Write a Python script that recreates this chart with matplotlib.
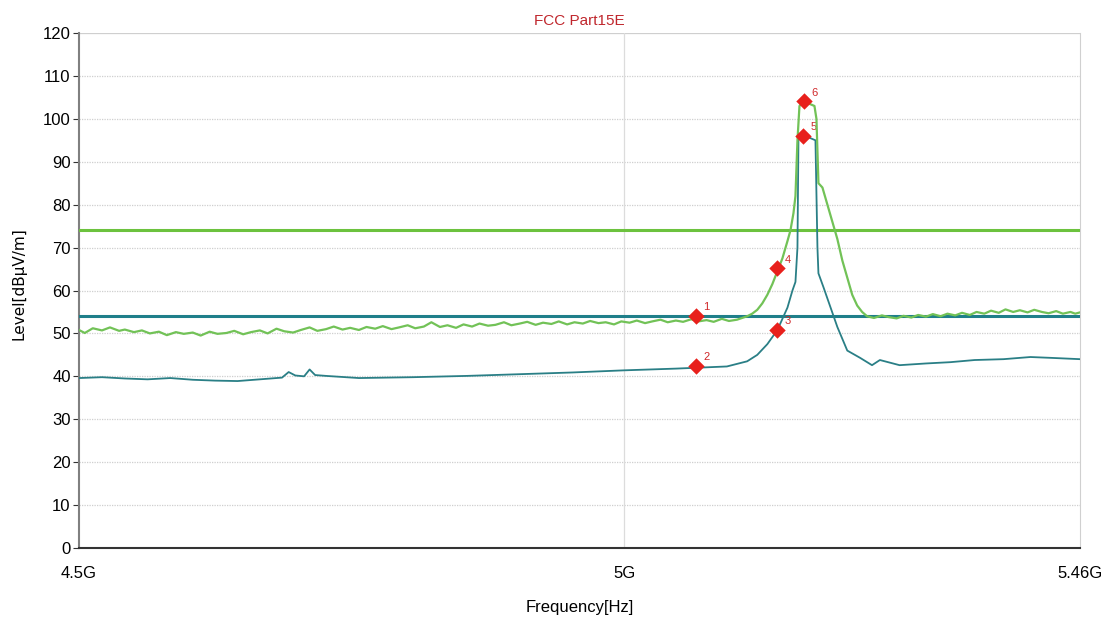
import numpy as np
import matplotlib
matplotlib.use('Agg')
import matplotlib.pyplot as plt
from matplotlib.ticker import FixedLocator, NullLocator

plt.rcParams['font.family'] = ['Liberation Sans Narrow', 'DejaVu Sans Condensed', 'Liberation Sans', 'DejaVu Sans']

# peak trace (MHz, dBuV/m)
peak_f = [4500, 4505, 4512, 4520, 4527, 4535, 4540, 4548, 4555, 4562, 4570, 4577, 4585, 4592,
          4600, 4607, 4615, 4622, 4630, 4637, 4645, 4652, 4660, 4667, 4675, 4682, 4690, 4697,
          4705, 4712, 4720, 4727, 4735, 4742, 4750, 4757, 4765, 4772, 4780, 4787, 4795, 4802,
          4810, 4817, 4825, 4832, 4840, 4847, 4855, 4862, 4870, 4877, 4885, 4892, 4900, 4907,
          4915, 4922, 4930, 4937, 4945, 4952, 4960, 4967, 4975, 4982, 4990, 4997, 5005, 5012,
          5020, 5027, 5035, 5042, 5050, 5057, 5065, 5072, 5080, 5087, 5095, 5102, 5110, 5115,
          5120, 5125, 5130, 5135, 5140, 5145, 5150, 5155, 5160, 5163, 5166, 5168, 5170, 5172,
          5176, 5182, 5187, 5189, 5191, 5195, 5200, 5205, 5210, 5215, 5220, 5225, 5230, 5235,
          5240, 5247, 5255, 5262, 5270, 5277, 5285, 5292, 5300, 5307, 5315, 5322, 5330, 5337,
          5345, 5352, 5360, 5367, 5375, 5382, 5390, 5397, 5405, 5412, 5420, 5427, 5435, 5442,
          5450, 5455, 5460]
peak_v = [50.8, 50.1, 51.2, 50.7, 51.4, 50.6, 50.9, 50.3, 50.7, 50.0, 50.4, 49.6, 50.3, 49.9,
          50.2, 49.5, 50.4, 49.9, 50.1, 50.6, 49.8, 50.3, 50.7, 50.0, 51.1, 50.5, 50.2, 50.8,
          51.4, 50.6, 51.0, 51.6, 50.9, 51.3, 50.8, 51.5, 51.1, 51.7, 51.0, 51.4, 51.9, 51.2,
          51.6, 52.6, 51.5, 51.9, 51.3, 52.1, 51.6, 52.3, 51.8, 52.0, 52.6, 51.9, 52.3, 52.7,
          52.0, 52.5, 52.2, 52.8, 52.1, 52.6, 52.3, 52.9, 52.4, 52.6, 52.1, 52.8, 52.5, 53.0,
          52.4, 52.8, 53.2, 52.6, 53.0, 52.7, 53.3, 52.8, 53.1, 52.7, 53.4, 52.9, 53.2, 53.6,
          54.0, 54.6, 55.5, 57.0, 59.0, 61.5, 64.5, 67.5, 71.5, 74.0, 78.0, 82.0, 95.0, 103.0,
          104.0, 103.5, 103.0, 100.0, 85.0, 84.0, 80.0, 76.0, 72.0, 67.0, 63.0, 59.0, 56.5, 55.0,
          54.0, 53.6, 54.2, 53.8, 53.5, 54.1, 53.7, 54.3, 53.9, 54.5, 54.0, 54.6, 54.2, 54.8,
          54.3, 55.0, 54.6, 55.3, 54.8, 55.6, 55.0, 55.4, 54.9, 55.5, 55.0, 54.7, 55.2, 54.6,
          55.0, 54.6, 54.9]

# average trace
avg_f = [4500, 4520, 4540, 4560, 4580, 4600, 4620, 4640, 4660, 4680, 4686, 4692, 4700, 4705,
         4710, 4720, 4750, 4800, 4850, 4900, 4950, 5000, 5050, 5070, 5100, 5120, 5130, 5140,
         5150, 5160, 5165, 5168, 5170, 5171, 5180, 5188, 5190, 5191, 5196, 5210, 5220, 5233,
         5245, 5253, 5273, 5300, 5325, 5350, 5380, 5408, 5430, 5460]
avg_v = [39.6, 39.8, 39.5, 39.3, 39.6, 39.2, 39.0, 38.9, 39.3, 39.7, 41.0, 40.2, 40.0, 41.6,
         40.3, 40.1, 39.6, 39.8, 40.1, 40.5, 40.9, 41.4, 41.8, 42.0, 42.3, 43.5, 45.0, 47.5,
         50.8, 56.0, 60.0, 62.0, 70.0, 95.5, 95.8, 95.0, 70.0, 64.0, 60.8, 51.5, 46.0, 44.3,
         42.6, 43.8, 42.6, 43.0, 43.3, 43.8, 44.0, 44.5, 44.3, 44.0]

limit_peak = 74
limit_avg = 54

mark_ids = ['1', '2', '3', '4', '5', '6']
mark_f = [5070, 5070, 5150, 5150, 5176, 5177]
mark_v = [54.1, 42.4, 50.8, 65.2, 96.0, 104.1]

fig = plt.figure(figsize=(11.02, 6.23), dpi=100)
ax = fig.add_axes([0.0717, 0.1204, 0.9083, 0.8266])

ax.set_xscale('log')
ax.set_xlim(4500, 5460)
ax.set_ylim(0, 120)

ax.axhline(limit_peak, color='#6cc23e', lw=2.2, zorder=3)
ax.axhline(limit_avg, color='#1f7f8a', lw=2.2, zorder=3)
ax.plot(avg_f, avg_v, color='#2a7f86', lw=1.3, zorder=4)
ax.plot(peak_f, peak_v, color='#72c257', lw=1.6, zorder=4)

ax.scatter(mark_f, mark_v, marker='D', s=70, color='#e8201c', zorder=6, linewidths=0)
for t, f, v in zip(mark_ids, mark_f, mark_v):
    ax.annotate(t, (f, v), xytext=(5, 4), textcoords='offset points',
                color='#d0282a', fontsize=8)

ax.xaxis.set_major_locator(FixedLocator([4500, 5000, 5460]))
ax.xaxis.set_minor_locator(NullLocator())
ax.set_xticklabels(['4.5G', '5G', '5.46G'])
ax.set_yticks(range(0, 121, 10))

for y in range(10, 121, 10):
    ax.axhline(y, color='#cfcfcf', lw=0.9, ls=(0, (1, 1)) if y < 120 else '-', zorder=1)
ax.axvline(5000, color='#dcdcdc', lw=0.9, zorder=1)

ax.spines['top'].set_visible(False)
ax.spines['right'].set_color('#d0d0d0')
ax.spines['left'].set_color('#808080')
ax.spines['left'].set_linewidth(1.5)
ax.spines['bottom'].set_color('#333333')
ax.spines['bottom'].set_linewidth(1.5)
ax.tick_params(axis='y', length=4, color='#333333', labelsize=12, pad=2)
ax.tick_params(axis='x', length=0, labelsize=12, pad=13)

ax.set_title('FCC Part15E', color='#c0272d', fontsize=11, pad=6)
ax.set_xlabel('Frequency[Hz]', fontsize=12, labelpad=14)
fig.text(0.017, 0.545, 'Level[dB\u03bcV/m]', rotation=90, ha='center', va='center',
         fontsize=11, family=['DejaVu Sans'])

fig.savefig('out.png', dpi=100)
